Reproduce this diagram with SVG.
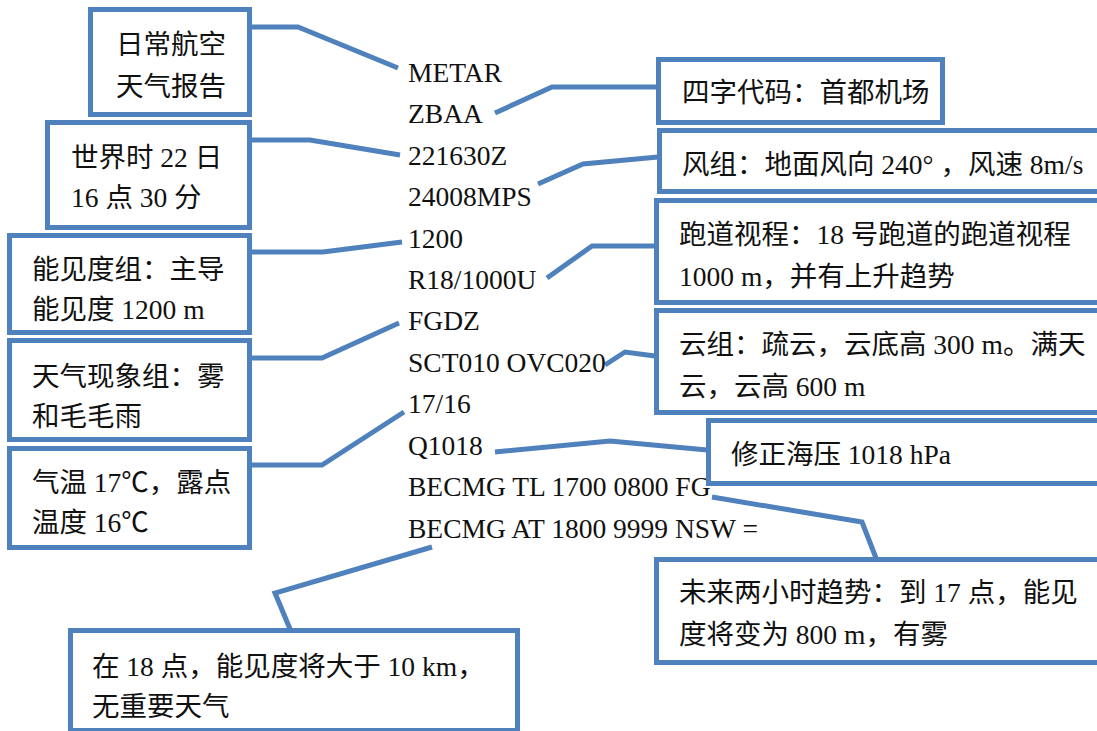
<svg xmlns="http://www.w3.org/2000/svg" width="1097" height="731" viewBox="0 0 1097 731">
<style>
.box{fill:#fff;stroke:#4F81BD;stroke-width:5}
.ln{fill:none;stroke:#4F81BD;stroke-width:5;stroke-linejoin:miter}
text{font-family:"Liberation Serif","Noto Sans CJK SC",serif;font-size:27.5px;fill:#111}
</style>
<rect width="1097" height="731" fill="#fff"/>
<g id="connectors">
<polyline class="ln" points="252,27 298,27 398,68"/>
<polyline class="ln" points="495,113 552,87 657,87"/>
<polyline class="ln" points="252,140 310,140 400,155"/>
<polyline class="ln" points="538,184 583,164 658,157"/>
<polyline class="ln" points="252,252 323,252 402,242"/>
<polyline class="ln" points="547,278 592,246 655,246"/>
<polyline class="ln" points="252,358 322,358 399,323"/>
<polyline class="ln" points="605,365 625,352 655,356"/>
<polyline class="ln" points="252,465 322,465 404,412"/>
<polyline class="ln" points="495,452 610,441 707,450"/>
<polyline class="ln" points="712,497 862,522 876,558"/>
<polyline class="ln" points="432,547 275,593 290,629"/>
</g>
<g id="metar">
<text x="408" y="82">METAR</text>
<text x="408" y="123">ZBAA</text>
<text x="408" y="165">221630Z</text>
<text x="408" y="206">24008MPS</text>
<text x="408" y="248">1200</text>
<text x="408" y="289">R18/1000U</text>
<text x="408" y="330">FGDZ</text>
<text x="408" y="372">SCT010 OVC020</text>
<text x="408" y="413">17/16</text>
<text x="408" y="455">Q1018</text>
<text x="408" y="496">BECMG TL 1700 0800 FG</text>
<text x="408" y="538">BECMG AT 1800 9999 NSW =</text>
</g>
<g id="n-report">
<rect class="box" x="90.5" y="9.5" width="159" height="105"/>
<text x="116" y="54">日常航空</text>
<text x="116" y="96">天气报告</text>
</g>
<g id="n-time">
<rect class="box" x="47.5" y="122.5" width="202" height="105"/>
<text x="71" y="167">世界时 22 日</text>
<text x="71" y="207">16 点 30 分</text>
</g>
<g id="n-vis">
<rect class="box" x="9.5" y="235.5" width="240" height="97"/>
<text x="32" y="279">能见度组：主导</text>
<text x="32" y="319">能见度 1200 m</text>
</g>
<g id="n-wx">
<rect class="box" x="9.5" y="340.5" width="240" height="99"/>
<text x="32" y="386">天气现象组：雾</text>
<text x="32" y="426">和毛毛雨</text>
</g>
<g id="n-temp">
<rect class="box" x="9.5" y="448.5" width="240" height="99"/>
<text x="32" y="492">气温 17℃，露点</text>
<text x="32" y="532">温度 16℃</text>
</g>
<g id="n-icao">
<rect class="box" x="658.5" y="59.5" width="284" height="63"/>
<text x="682" y="102">四字代码：首都机场</text>
</g>
<g id="n-wind">
<rect class="box" x="659.5" y="130.5" width="450" height="61"/>
<text x="682" y="174">风组：地面风向 240° ，风速 8m/s</text>
</g>
<g id="n-rvr">
<rect class="box" x="656.5" y="200.5" width="450" height="102"/>
<text x="679" y="244">跑道视程：18 号跑道的跑道视程</text>
<text x="679" y="286">1000 m，并有上升趋势</text>
</g>
<g id="n-cloud">
<rect class="box" x="656.5" y="310.5" width="450" height="102"/>
<text x="679" y="354">云组：疏云，云底高 300 m。满天</text>
<text x="679" y="396">云，云高 600 m</text>
</g>
<g id="n-qnh">
<rect class="box" x="708.5" y="420.5" width="400" height="63"/>
<text x="731" y="464">修正海压 1018 hPa</text>
</g>
<g id="n-trend1">
<rect class="box" x="656.5" y="559.5" width="450" height="103"/>
<text x="679" y="602">未来两小时趋势：到 17 点，能见</text>
<text x="679" y="644">度将变为 800 m，有雾</text>
</g>
<g id="n-trend2">
<rect class="box" x="70.5" y="630.5" width="447" height="100"/>
<text x="92" y="676">在 18 点，能见度将大于 10 km，</text>
<text x="92" y="716">无重要天气</text>
</g>
</svg>
